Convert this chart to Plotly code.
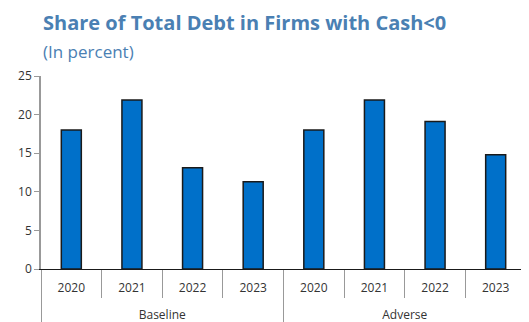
import plotly.graph_objects as go

scenarios = ["Baseline"] * 4 + ["Adverse"] * 4
years = ["2020", "2021", "2022", "2023", "2020", "2021", "2022", "2023"]
share = [18.0, 21.9, 13.1, 11.3, 18.0, 21.9, 19.1, 14.8]

# leading line break pushes the scenario labels below the year labels
group_labels = ["<br>" + s for s in scenarios]

fig = go.Figure(
    go.Bar(
        x=[group_labels, years],
        y=share,
        width=0.33,
        marker=dict(color="#0070c9", line=dict(color="#1a1a1a", width=1.5)),
    )
)

# the page body has an 8px margin, so the figure is shrunk to fit the window
fig.update_layout(
    width=521,
    height=314,
    margin=dict(l=33, r=3, t=68, b=53, autoexpand=False),
    plot_bgcolor="white",
    paper_bgcolor="white",
    showlegend=False,
    font=dict(family="Open Sans, Noto Sans, sans-serif", size=12, color="#333333"),
    annotations=[
        dict(
            text="<b>Share of Total Debt in Firms with Cash<0</b>",
            xref="paper", yref="paper", x=0.0, y=1.0, yshift=54,
            xanchor="left", yanchor="middle", showarrow=False,
            font=dict(size=20, color="#4a80b3"),
        ),
        dict(
            text="(In percent)",
            xref="paper", yref="paper", x=0.0, y=1.0, yshift=25,
            xanchor="left", yanchor="middle", showarrow=False,
            font=dict(size=17, color="#4a80b3"),
        ),
    ],
)

fig.update_xaxes(
    type="multicategory",
    automargin=False,
    showline=True,
    linecolor="#1a1a1a",
    linewidth=1,
    ticks="outside",
    tickson="boundaries",
    ticklen=28,
    tickcolor="#999999",
    ticklabelstandoff=8,
    showdividers=True,
    dividercolor="#999999",
    dividerwidth=1,
    tickfont=dict(size=12, color="#333333"),
)

fig.update_yaxes(
    automargin=False,
    range=[0, 25],
    tickvals=[0, 5, 10, 15, 20, 25],
    showline=True,
    linecolor="#999999",
    linewidth=1.5,
    ticks="outside",
    ticklen=5,
    tickcolor="#999999",
    showgrid=False,
    zeroline=False,
    tickfont=dict(size=12, color="#333333"),
)

fig.write_html("out.html")
